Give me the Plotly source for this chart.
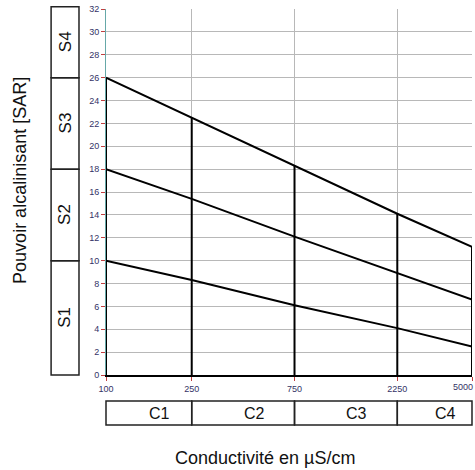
import numpy as np
import plotly.graph_objects as go

# Data
conductivity = [100, 250, 750, 2250, 5000]
tick_labels = ["100", "250", "750", "2250", "5000"]
sar_s3_s4 = [26, 22.5, 18.3, 14.1, 11.2]
sar_s2_s3 = [18, 15.4, 12.1, 8.9, 6.6]
sar_s1_s2 = [10, 8.3, 6.1, 4.1, 2.5]
s_classes = ["S1", "S2", "S3", "S4"]
s_bounds = [0, 10, 18, 26, 32.2]
c_classes = ["C1", "C2", "C3", "C4"]

Y_MAX = 32
FONT = "Liberation Sans, Arial, sans-serif"
TICKFONT = dict(family=FONT, size=9, color="#333366")
fig = go.Figure()

line_style = dict(color="black", width=2)
for ys in (sar_s3_s4, sar_s2_s3, sar_s1_s2):
    fig.add_trace(go.Scatter(x=conductivity, y=ys, mode="lines", line=line_style,
                             hoverinfo="skip", showlegend=False, cliponaxis=False))
# verticals from 0 up to the upper boundary
for c, top in zip(conductivity, sar_s3_s4):
    fig.add_trace(go.Scatter(x=[c, c], y=[0, top], mode="lines", line=line_style,
                             hoverinfo="skip", showlegend=False, cliponaxis=False))

logc = np.log10(conductivity)
xr = [logc[0] - 1e-6, logc[-1] + 1e-6]
def xpaper(lv):
    return (lv - xr[0]) / (xr[1] - xr[0])

shapes = []
annotations = []
ann_common = dict(xref="paper", yref="paper", showarrow=False,
                  xanchor="center", yanchor="middle")
# S boxes on the left
for i, name in enumerate(s_classes):
    y0, y1 = s_bounds[i] / Y_MAX, s_bounds[i + 1] / Y_MAX
    shapes.append(dict(type="rect", xref="paper", yref="paper", x0=-0.150, x1=-0.0738,
                       y0=y0, y1=y1, line=dict(color="#222", width=1.5)))
    annotations.append(dict(ann_common, x=-0.112, y=(y0 + y1) / 2,
                            text=name, textangle=-90,
                            font=dict(family=FONT, size=17, color="#111")))
# C boxes under the axis
for i, name in enumerate(c_classes):
    x0, x1 = xpaper(logc[i]), xpaper(logc[i + 1])
    shapes.append(dict(type="rect", xref="paper", yref="paper", x0=x0, x1=x1,
                       y0=-0.1366, y1=-0.071, line=dict(color="#222", width=1.5)))
    annotations.append(dict(ann_common, x=(x0 + x1) / 2, y=-0.104,
                            xshift=11, text=name,
                            font=dict(family=FONT, size=16, color="#111")))

# last tick label kept fully inside the figure
annotations.append(dict(xref="paper", yref="paper", showarrow=False,
                        x=xpaper(logc[-1]), y=0, xanchor="right", yanchor="top",
                        xshift=3, yshift=-5, text=tick_labels[-1], font=TICKFONT))

annotations.append(dict(ann_common, x=-0.235, y=0.533,
                        text="Pouvoir alcalinisant [SAR]", textangle=-90,
                        font=dict(family=FONT, size=18, color="#111")))
annotations.append(dict(ann_common, x=0.434, y=-0.227,
                        text="Conductivité en µS/cm",
                        font=dict(family=FONT, size=18, color="#111")))

fig.update_layout(
    width=475, height=470,
    margin=dict(l=106, r=3, t=9, b=95, autoexpand=False),
    paper_bgcolor="white", plot_bgcolor="white",
    shapes=shapes, annotations=annotations,
    xaxis=dict(type="log", range=xr,
               tickvals=conductivity, ticktext=tick_labels[:-1] + [""],
               showgrid=True, gridcolor="#b8b8b8", gridwidth=1,
               showline=True, linecolor="black", linewidth=2,
               ticks="outside", ticklen=4, tickcolor="#c04040",
               tickfont=TICKFONT,
               zeroline=False, fixedrange=True, automargin=False),
    yaxis=dict(range=[0, Y_MAX], dtick=2, tick0=0,
               showgrid=True, gridcolor="#b8b8b8", gridwidth=1,
               showline=True, linecolor="#66a8a8", linewidth=1,
               ticks="outside", ticklen=4, tickcolor="#c04040",
               tickfont=TICKFONT, ticklabeloverflow="allow",
               zeroline=False, fixedrange=True, automargin=False),
)

fig.write_html("out.html", config={"displayModeBar": False},
               post_script="document.body.style.margin='0';document.body.style.overflow='hidden';")
